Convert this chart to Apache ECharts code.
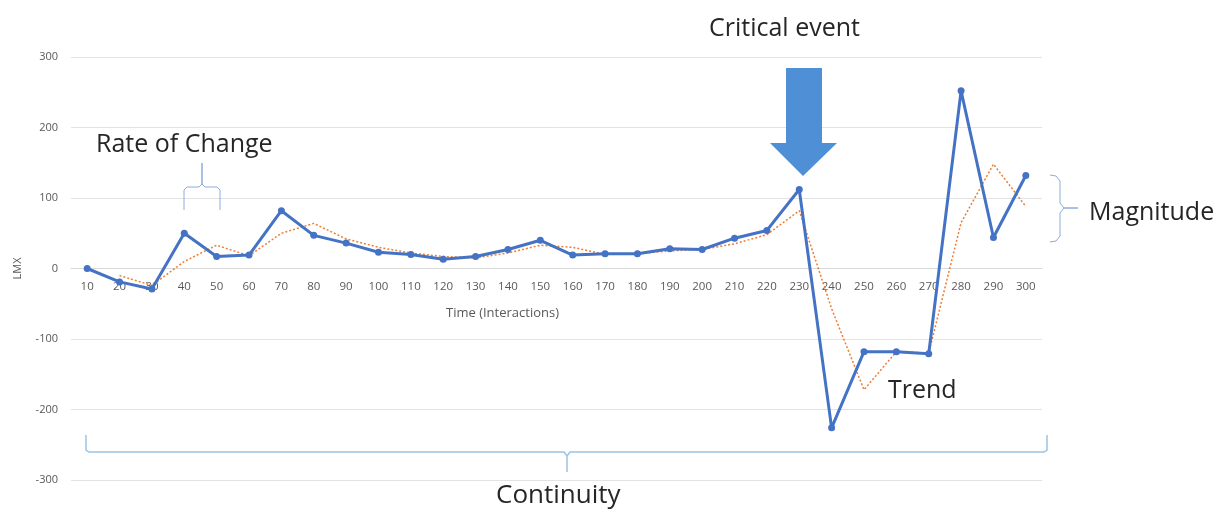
<!DOCTYPE html>
<html>
<head>
<meta charset="utf-8">
<script src="https://cdn.jsdelivr.net/npm/echarts@6/dist/echarts.min.js"></script>
<style>
  html, body { margin: 0; padding: 0; background: #fff; }
  #chart { width: 1220px; height: 509px; }
</style>
</head>
<body>
<div id="chart"></div>
<script>
const times = ['10', '20', '30', '40', '50', '60', '70', '80', '90', '100',
  '110', '120', '130', '140', '150', '160', '170', '180', '190', '200',
  '210', '220', '230', '240', '250', '260', '270', '280', '290', '300']

// LMX readings (blue line)
const lmx = [0, -19, -29, 50, 17, 19, 82, 47, 36, 23,
  20, 13, 17, 27, 40, 19, 21, 21, 28, 27,
  43, 54, 112, -226, -118, -118, -121, 252, 44, 132]

// dotted trend line (orange)
const trend = [null, -10, -24, 10, 33, 18, 50, 64, 42, 30,
  22, 17, 15, 22, 33, 30, 20, 21, 25, 27,
  35, 48, 82, -57, -172, -118, -120, 65, 148, 88]

const yTicks = { min: -300, max: 300, step: 100 }

const font = 'Open Sans'
const labelColor = '#262626'
const braceColor = '#8eaadb'
const big = '25px "Open Sans"'

const gridTop = 57
const gridBottom = 29
const plotH = 509 - gridTop - gridBottom
// move the category axis up to the zero line
const zeroOffset = -plotH * (0 - yTicks.min) / (yTicks.max - yTicks.min)

const chart = echarts.init(document.getElementById('chart'))

chart.setOption({
  backgroundColor: '#fff',
  animation: false,
  grid: { left: 71, right: 178, top: gridTop, bottom: gridBottom },
  xAxis: {
    type: 'category',
    data: times,
    boundaryGap: true,
    position: 'bottom',
    offset: zeroOffset,
    axisLine: { onZero: false, lineStyle: { color: '#d9d9d9' } },
    axisTick: { show: false },
    axisLabel: { color: '#595959', fontSize: 11.5, fontFamily: font, margin: 12 },
  },
  yAxis: {
    type: 'value',
    min: yTicks.min,
    max: yTicks.max,
    interval: yTicks.step,
    name: 'LMX',
    nameLocation: 'middle',
    nameGap: 48,
    nameTextStyle: { color: '#595959', fontSize: 11, fontFamily: font },
    axisLine: { show: false },
    axisTick: { show: false },
    axisLabel: { color: '#595959', fontSize: 11, fontFamily: font, margin: 13 },
    splitLine: { lineStyle: { color: '#e3e3e3', width: 1 } },
  },
  series: [
    {
      name: 'Trend',
      type: 'line',
      data: trend,
      symbol: 'none',
      z: 2,
      lineStyle: { color: '#ed7d31', width: 1.5, type: [2, 2] },
    },
    {
      name: 'LMX',
      type: 'line',
      data: lmx,
      symbol: 'circle',
      symbolSize: 7,
      z: 3,
      itemStyle: { color: '#4472c4' },
      lineStyle: { color: '#4472c4', width: 3 },
    },
  ],
  graphic: {
    elements: [
      {
        type: 'text',
        left: 446, top: 307, z: 100,
        style: { text: 'Time (Interactions)', fill: '#595959', font: '13px "Open Sans"' },
      },
      {
        type: 'text',
        left: 709, top: 16, z: 100,
        style: { text: 'Critical event', fill: labelColor, font: big },
      },
      {
        type: 'polygon', z: 100,
        shape: {
          points: [[786, 68], [822, 68], [822, 143], [837, 143], [803, 176], [770, 143], [786, 143]],
        },
        style: { fill: '#4f8fd6' },
      },
      {
        type: 'text',
        left: 96, top: 132, z: 100,
        style: { text: 'Rate of Change', fill: labelColor, font: big },
      },
      {
        type: 'polyline', z: 100,
        shape: { points: [[184, 210], [184, 190], [187, 187], [199, 187], [202, 184], [202, 163], [202, 184], [205, 187], [217, 187], [220, 190], [220, 210]] },
        style: { stroke: braceColor, lineWidth: 1, fill: null },
      },
      {
        type: 'polyline', z: 100,
        shape: { points: [[1050, 175], [1056, 176], [1060, 181], [1060, 203], [1064, 208], [1078, 208], [1064, 208], [1060, 213], [1060, 236], [1056, 241], [1050, 242]] },
        style: { stroke: braceColor, lineWidth: 1, fill: null },
      },
      {
        type: 'text',
        left: 1089, top: 200, z: 100,
        style: { text: 'Magnitude', fill: labelColor, font: big },
      },
      {
        type: 'text',
        left: 888, top: 378, z: 100,
        style: { text: 'Trend', fill: labelColor, font: big },
      },
      {
        type: 'polyline', z: 100,
        shape: { points: [[86, 435], [86, 450], [89, 452], [564, 452], [567, 456], [567, 472], [567, 456], [570, 452], [1044, 452], [1047, 450], [1047, 435]] },
        style: { stroke: '#9dc3e6', lineWidth: 1.5, fill: null },
      },
      {
        type: 'text',
        left: 496, top: 483, z: 100,
        style: { text: 'Continuity', fill: labelColor, font: '26px "Open Sans"' },
      },
    ],
  },
})
</script>
</body>
</html>
